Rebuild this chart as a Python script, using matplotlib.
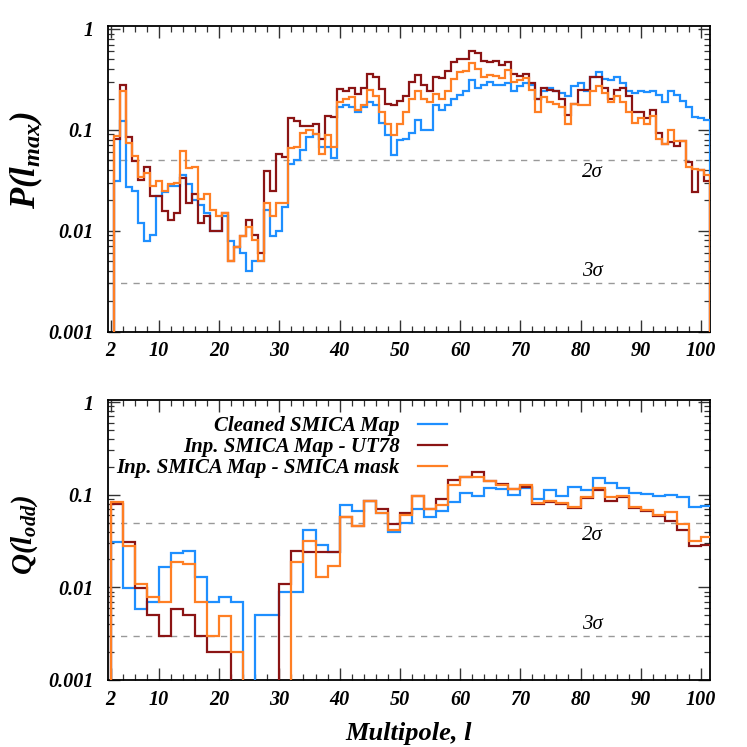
import numpy as np
import matplotlib
matplotlib.use("Agg")
import matplotlib.pyplot as plt
from matplotlib.font_manager import FontProperties
from matplotlib.ticker import FixedLocator, FixedFormatter, LogLocator, NullFormatter

# ---- data: top panel, one value per multipole l = 2..101
l_top = np.arange(2, 102)
blue_P = [1e-5, 0.031, 0.121, 0.027, 0.025, 0.012, 0.0079, 0.009, 0.022, 0.024,
          0.028, 0.028, 0.036, 0.029, 0.020, 0.018, 0.015, 0.010, 0.010, 0.0139,
          0.0079, 0.0069, 0.006, 0.004, 0.005, 0.005, 0.016, 0.0088, 0.010, 0.0173,
          0.046, 0.050, 0.063, 0.085, 0.090, 0.068, 0.068, 0.053, 0.17, 0.177,
          0.17, 0.15, 0.168, 0.19, 0.175, 0.117, 0.089, 0.056, 0.079, 0.082,
          0.093, 0.126, 0.10, 0.10, 0.175, 0.156, 0.177, 0.20, 0.22, 0.245,
          0.31, 0.26, 0.276, 0.296, 0.276, 0.28, 0.29, 0.245, 0.27, 0.29,
          0.28, 0.20, 0.245, 0.26, 0.245, 0.23, 0.218, 0.27, 0.29, 0.245,
          0.334, 0.375, 0.32, 0.315, 0.334, 0.29, 0.245, 0.23, 0.24, 0.235,
          0.24, 0.22, 0.19, 0.24, 0.22, 0.195, 0.168, 0.135, 0.13, 0.126]
red_P = [1e-5, 0.081, 0.279, 0.085, 0.049, 0.032, 0.043, 0.022, 0.022, 0.0157,
         0.0129, 0.015, 0.0336, 0.019, 0.023, 0.012, 0.0139, 0.010, 0.010, 0.015,
         0.005, 0.0069, 0.0088, 0.0129, 0.009, 0.006, 0.039, 0.025, 0.058, 0.054,
         0.13, 0.122, 0.108, 0.108, 0.115, 0.081, 0.136, 0.133, 0.254, 0.24,
         0.26, 0.228, 0.26, 0.358, 0.334, 0.254, 0.18, 0.175, 0.191, 0.218,
         0.296, 0.347, 0.276, 0.24, 0.334, 0.33, 0.386, 0.471, 0.508, 0.50,
         0.60, 0.58, 0.478, 0.471, 0.478, 0.443, 0.47, 0.36, 0.345, 0.36,
         0.29, 0.20, 0.257, 0.246, 0.24, 0.20, 0.141, 0.18, 0.25, 0.25,
         0.334, 0.334, 0.257, 0.20, 0.25, 0.26, 0.215, 0.149, 0.149, 0.13,
         0.156, 0.093, 0.072, 0.076, 0.069, 0.078, 0.048, 0.024, 0.040, 0.031]
orange_P = [1e-5, 0.086, 0.244, 0.074, 0.055, 0.034, 0.037, 0.028, 0.031, 0.025,
            0.029, 0.030, 0.062, 0.042, 0.043, 0.0205, 0.023, 0.016, 0.0139, 0.015,
            0.005, 0.0069, 0.0088, 0.0109, 0.008, 0.005, 0.0189, 0.0139, 0.019, 0.019,
            0.066, 0.067, 0.094, 0.10, 0.09, 0.057, 0.089, 0.067, 0.187, 0.20,
            0.21, 0.156, 0.175, 0.246, 0.215, 0.15, 0.115, 0.089, 0.115, 0.15,
            0.20, 0.245, 0.20, 0.187, 0.228, 0.20, 0.245, 0.32, 0.378, 0.38,
            0.464, 0.40, 0.334, 0.347, 0.34, 0.33, 0.39, 0.30, 0.31, 0.33,
            0.25, 0.15, 0.21, 0.19, 0.18, 0.17, 0.115, 0.18, 0.177, 0.175,
            0.24, 0.27, 0.23, 0.187, 0.215, 0.19, 0.149, 0.117, 0.13, 0.115,
            0.137, 0.082, 0.072, 0.10, 0.078, 0.078, 0.043, 0.041, 0.040, 0.036]

# ---- data: bottom panel, bins of two multipoles, edges 2,4,...,102
edges_bot = np.arange(2, 104, 2)
blue_Q = [0.031, 0.0099, 0.0058, 0.007, 0.0167, 0.0237, 0.0247, 0.0128, 0.007, 0.0079,
          0.007, 1e-5, 0.005, 0.005, 0.009, 0.009, 0.042, 0.0287, 0.024, 0.0774,
          0.066, 0.0855, 0.064, 0.040, 0.049, 0.0695, 0.058, 0.066, 0.084, 0.1035,
          0.098, 0.119, 0.114, 0.099, 0.119, 0.089, 0.112, 0.097, 0.122, 0.112,
          0.150, 0.133, 0.119, 0.1035, 0.101, 0.098, 0.099, 0.095, 0.073, 0.075]
red_Q = [0.079, 0.031, 0.0099, 0.005, 0.003, 0.0059, 0.005, 0.003, 0.002, 0.002,
         1e-5, 1e-5, 1e-5, 1e-5, 0.011, 0.0247, 0.024, 0.024, 0.024, 0.057,
         0.046, 0.0855, 0.0695, 0.048, 0.064, 0.098, 0.0695, 0.089, 0.144, 0.156,
         0.177, 0.141, 0.130, 0.114, 0.122, 0.079, 0.084, 0.079, 0.071, 0.091,
         0.112, 0.0855, 0.095, 0.071, 0.066, 0.059, 0.052, 0.042, 0.028, 0.029]
orange_Q = [0.084, 0.028, 0.011, 0.0079, 0.0069, 0.019, 0.018, 0.0069, 0.003, 0.0049,
            0.002, 1e-5, 1e-5, 1e-5, 1e-5, 0.019, 0.032, 0.013, 0.017, 0.057,
            0.046, 0.0855, 0.063, 0.042, 0.060, 0.098, 0.0695, 0.077, 0.127, 0.154,
            0.156, 0.141, 0.127, 0.115, 0.127, 0.082, 0.0855, 0.081, 0.074, 0.095,
            0.117, 0.095, 0.097, 0.074, 0.068, 0.060, 0.065, 0.048, 0.032, 0.035]

labels = ["Cleaned SMICA Map", "Inp. SMICA Map - UT78", "Inp. SMICA Map - SMICA mask"]
colors = ["#1e8fff", "#8b1414", "#ff7f24"]
sig2, sig3 = 0.05, 0.003

fbi = dict(family="Liberation Serif", weight="bold", style="italic")
plt.rcParams["mathtext.fontset"] = "custom"
plt.rcParams["mathtext.rm"] = "Liberation Serif:bold:italic"
plt.rcParams["mathtext.it"] = "Liberation Serif:bold:italic"

fig = plt.figure(figsize=(7.47, 7.47), dpi=100)
ax1 = fig.add_axes([0.1442, 0.5562, 0.8063, 0.409])
ax2 = fig.add_axes([0.1442, 0.0897, 0.8063, 0.3742])

edges_top = np.append(l_top - 0.5, l_top[-1] + 0.5)


def style_axis(ax, ytop):
    ax.set_yscale("log")
    ax.set_xlim(1.5, 101.5)
    ax.set_ylim(0.001, ytop)
    ax.xaxis.set_major_locator(FixedLocator([2, 10, 20, 30, 40, 50, 60, 70, 80, 90, 100]))
    ax.xaxis.set_minor_locator(FixedLocator(np.arange(4, 102, 2)))
    ax.yaxis.set_major_locator(FixedLocator([0.001, 0.01, 0.1, 1]))
    ax.yaxis.set_major_formatter(FixedFormatter(["0.001", "0.01", "0.1", "1"]))
    ax.yaxis.set_minor_locator(LogLocator(base=10, subs=np.arange(2, 10)))
    ax.yaxis.set_minor_formatter(NullFormatter())
    ax.tick_params(which="both", direction="in", top=True, right=True, color="#333333")
    ax.tick_params(which="major", length=8.5, width=1.0)
    ax.tick_params(which="minor", length=4.3, width=0.9)
    ax.tick_params(axis="x", pad=7)
    ax.tick_params(axis="y", pad=10)
    for lab in ax.get_xticklabels() + ax.get_yticklabels():
        lab.set_fontproperties(FontProperties(size=14.5, **fbi))
    for sp in ax.spines.values():
        sp.set_linewidth(1.3)
    for v in (sig2, sig3):
        ax.axhline(v, color="#999999", lw=1.0, ls=(0, (4.5, 4.5)), zorder=1)
    ax.text(82, sig2 * 0.93, "2σ", family="Liberation Serif", style="italic", fontsize=15,
            ha="center", va="top")
    ax.text(82, sig3 * 1.05, "3σ", family="Liberation Serif", style="italic", fontsize=15,
            ha="center", va="bottom")


# top panel
for vals, c in zip([blue_P, red_P, orange_P], colors):
    ax1.stairs(vals, edges_top, baseline=1e-6, color=c, lw=1.6, zorder=3)
style_axis(ax1, 1.07)
ax1.set_ylabel(r"$P(l_{max})$", fontsize=25)
ax1.yaxis.set_label_coords(-0.104, 0.56)

# bottom panel
handles = []
for vals, c in zip([blue_Q, red_Q, orange_Q], colors):
    ax2.stairs(vals, edges_bot, baseline=1e-6, color=c, lw=1.6, zorder=3)
    handles.append(plt.Line2D([], [], color=c, lw=1.6))
style_axis(ax2, 1.04)
ax2.set_ylabel(r"$Q(l_{odd})$", fontsize=21)
ax2.yaxis.set_label_coords(-0.112, 0.517)
ax2.set_xlabel("Multipole, l", fontsize=19, labelpad=9, **fbi)

ax2.legend(handles, labels, loc="upper right", bbox_to_anchor=(0.563, 0.945),
           frameon=False, markerfirst=False, borderaxespad=0, borderpad=0,
           handlelength=1.4, handletextpad=0.85, labelspacing=0.05,
           prop=FontProperties(size=15, **fbi))

fig.savefig("out.png", dpi=100)
